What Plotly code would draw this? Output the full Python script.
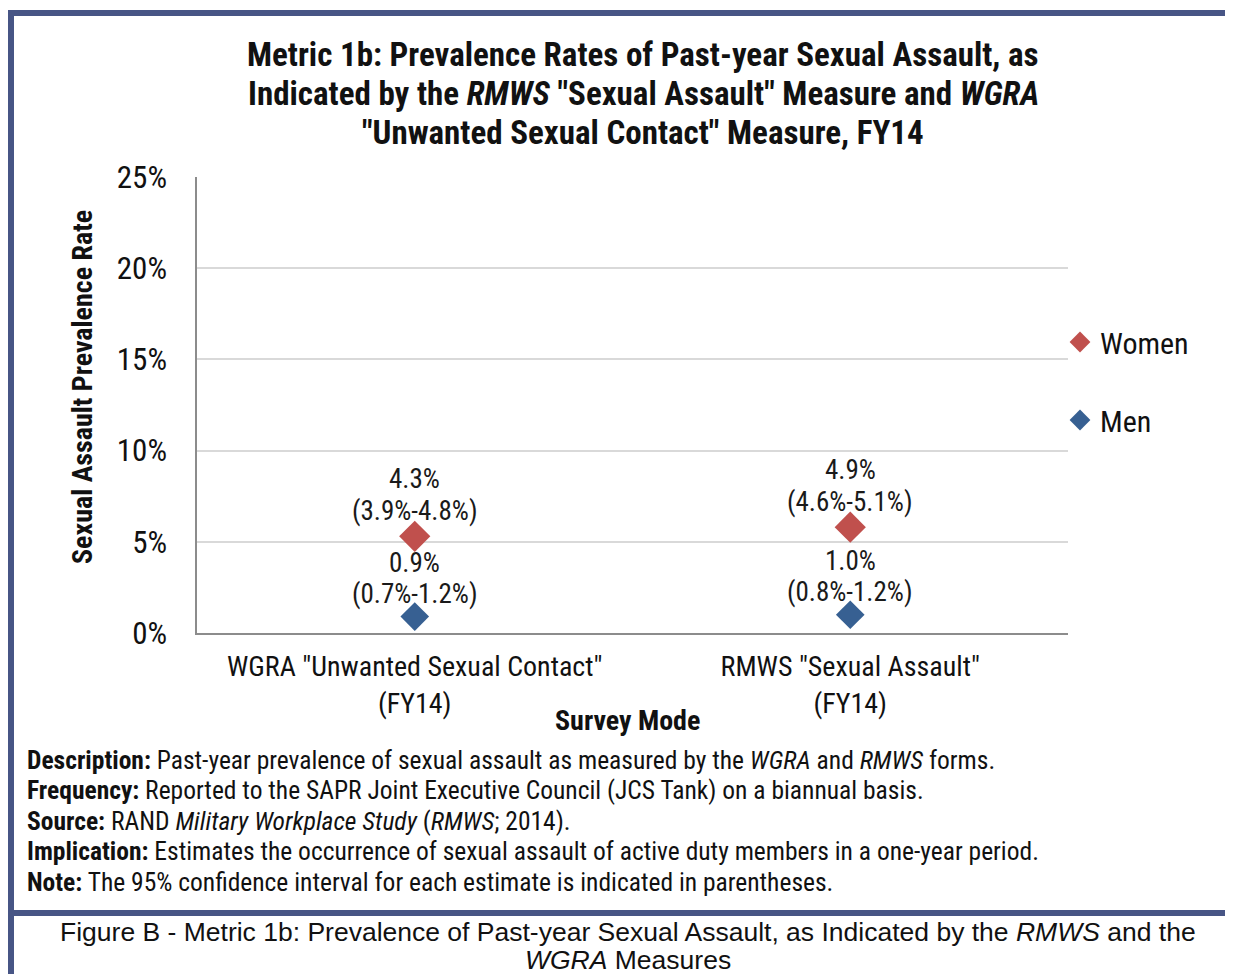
import plotly.graph_objects as go

categories = ['WGRA "Unwanted Sexual Contact"<br>(FY14)', 'RMWS "Sexual Assault"<br>(FY14)']
women_values = [5.3, 5.8]
men_values = [0.9, 1.0]
women_est = ["4.3%", "4.9%"]
women_ci = ["(3.9%-4.8%)", "(4.6%-5.1%)"]
men_est = ["0.9%", "1.0%"]
men_ci = ["(0.7%-1.2%)", "(0.8%-1.2%)"]
y_ticks = [0, 5, 10, 15, 20, 25]
y_tick_text = ["0%", "5%", "10%", "15%", "20%", "25%"]
title_lines = [
    "<b>Metric 1b: Prevalence Rates of Past-year Sexual Assault, as</b>",
    "<b>Indicated by the <i>RMWS</i> \"Sexual Assault\" Measure and <i>WGRA</i></b>",
    "<b>\"Unwanted Sexual Contact\" Measure, FY14</b>",
]

OFF = 8  # browser body margin
W, H = 1233 - OFF, 974 - OFF
L, R, T, B = 197, 1068, 177, 633  # reference page pixels of plot area
NARROW = "Liberation Sans Narrow, Arial Narrow, Roboto Condensed, sans-serif"
ARIAL = "Liberation Sans, Arial, sans-serif"


def px(x):
    return (x - L) / (R - L)


def py(y):
    return (B - y) / (B - T)


fig = go.Figure()
fig.add_trace(go.Scatter(
    x=categories, y=women_values, name="Women", mode="markers",
    marker=dict(symbol="diamond", size=24, color="#C0504D"),
    legendgroup="w",
))
fig.add_trace(go.Scatter(
    x=categories, y=men_values, name="Men", mode="markers",
    marker=dict(symbol="diamond", size=22, color="#376092"),
    legendgroup="m",
))

annotations = []
lab_font = dict(size=27, family=NARROW, color="#1a1a1a")
for cat, v, e, c in zip(categories, women_values, women_est, women_ci):
    annotations.append(dict(x=cat, y=v, text=c, yshift=25, showarrow=False, yanchor="middle", font=lab_font))
    annotations.append(dict(x=cat, y=v, text=e, yshift=57, showarrow=False, yanchor="middle", font=lab_font))
for cat, v, e, c in zip(categories, men_values, men_est, men_ci):
    annotations.append(dict(x=cat, y=v, text=c, yshift=23, showarrow=False, yanchor="middle", font=lab_font))
    annotations.append(dict(x=cat, y=v, text=e, yshift=54, showarrow=False, yanchor="middle", font=lab_font))

for t, yy in zip(title_lines, [55, 94, 133]):
    annotations.append(dict(text=t, xref="paper", yref="paper", x=px(643), y=py(yy),
                            xanchor="center", yanchor="middle", showarrow=False,
                            font=dict(size=33, family=NARROW, color="#111")))

frame = "#475585"
shapes = [
    dict(type="rect", xref="paper", yref="paper", x0=px(8), x1=px(14), y0=py(990), y1=py(10),
         fillcolor=frame, line_width=0, layer="above"),
    dict(type="rect", xref="paper", yref="paper", x0=px(8), x1=px(1250), y0=py(16), y1=py(10),
         fillcolor=frame, line_width=0, layer="above"),
    dict(type="rect", xref="paper", yref="paper", x0=px(8), x1=px(1250), y0=py(916), y1=py(910),
         fillcolor=frame, line_width=0, layer="above"),
]

notes = [
    "<b>Description:</b> Past-year prevalence of sexual assault as measured by the <i>WGRA</i> and <i>RMWS</i> forms.",
    "<b>Frequency:</b> Reported to the SAPR Joint Executive Council (JCS Tank) on a biannual basis.",
    "<b>Source:</b> RAND <i>Military Workplace Study</i> (<i>RMWS</i>; 2014).",
    "<b>Implication:</b> Estimates the occurrence of sexual assault of active duty members in a one-year period.",
    "<b>Note:</b> The 95% confidence interval for each estimate is indicated in parentheses.",
]
note_y = [760, 790, 821, 851, 882]
for t, yy in zip(notes, note_y):
    annotations.append(dict(text=t, xref="paper", yref="paper", x=px(25), y=py(yy),
                            xanchor="left", yanchor="middle", showarrow=False,
                            font=dict(size=25.5, family=NARROW, color="#111")))
caption = [
    "Figure B - Metric 1b: Prevalence of Past-year Sexual Assault, as Indicated by the <i>RMWS</i> and the",
    "<i>WGRA</i> Measures",
]
for t, yy in zip(caption, [932, 960]):
    annotations.append(dict(text=t, xref="paper", yref="paper", x=px(628), y=py(yy),
                            xanchor="center", yanchor="middle", showarrow=False,
                            font=dict(size=26.5, family=ARIAL, color="#111")))
annotations.append(dict(
    text="<b>Survey Mode</b>", xref="paper", yref="paper", x=px(627), y=py(720),
    xanchor="center", yanchor="middle", showarrow=False,
    font=dict(size=28, family=NARROW, color="#111")))
annotations.append(dict(
    text="<b>Sexual Assault Prevalence Rate</b>", xref="paper", yref="paper", x=px(82), y=py(387),
    xanchor="center", yanchor="middle", showarrow=False, textangle=-90,
    font=dict(size=28, family=NARROW, color="#111")))

fig.update_layout(
    width=W, height=H,
    margin=dict(l=L - OFF, r=W - (R - OFF), t=T - OFF, b=H - (B - OFF)),
    paper_bgcolor="white", plot_bgcolor="white",
    font=dict(family=NARROW, color="#111"),
    xaxis=dict(showgrid=False, showline=True, linecolor="#8c8c8c", linewidth=1.5,
               ticks="", tickfont=dict(size=28, family=NARROW, color="#111"),
               ticklabelstandoff=8, range=[-0.5, 1.5], fixedrange=True),
    yaxis=dict(range=[0, 25], tickvals=y_ticks, ticktext=y_tick_text,
               showgrid=True, gridcolor="#d9d9d9", gridwidth=1.5,
               showline=True, linecolor="#8c8c8c", linewidth=1.5, zeroline=False,
               tickfont=dict(size=31, family=NARROW, color="#111"), ticklabelstandoff=22),
    legend=dict(x=px(1060), y=py(316), xanchor="left", yanchor="top",
                font=dict(size=30, family=NARROW, color="#111"),
                traceorder="grouped", tracegroupgap=36, itemwidth=30,
                bgcolor="rgba(0,0,0,0)"),
    shapes=shapes, annotations=annotations,
)

fig.write_html("out.html")
